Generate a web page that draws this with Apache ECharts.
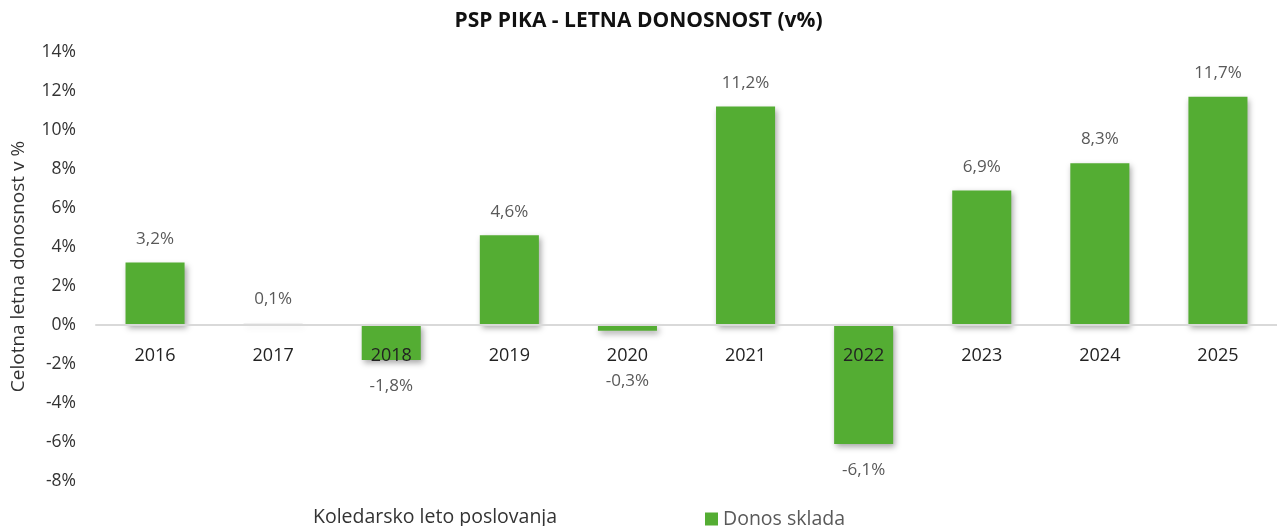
<!DOCTYPE html>
<html>
<head>
<meta charset="utf-8">
<script src="https://cdn.jsdelivr.net/npm/echarts@6/dist/echarts.min.js"></script>
<style>
  html, body { margin: 0; padding: 0; background: #fff; }
  #chart { width: 1277px; height: 526px; }
</style>
</head>
<body>
<div id="chart"></div>
<script>
// podatki
const years = ['2016', '2017', '2018', '2019', '2020', '2021', '2022', '2023', '2024', '2025'];
const returns = [3.2, 0.1, -1.8, 4.6, -0.3, 11.2, -6.1, 6.9, 8.3, 11.7];
const yTicks = { min: -8, max: 14, step: 2 };

const green = '#54ad33';
const fmt = v => String(v).replace('.', ',') + '%';

const gridTop = 52, gridHeight = 429;
// x os naj lezi na nicli: odmik od spodnjega roba mreze
const zeroOffset = -gridHeight * (0 - yTicks.min) / (yTicks.max - yTicks.min);

const chart = echarts.init(document.getElementById('chart'));

// negativni stolpci: oznaka pod stolpcem, majhne vrednosti se umaknejo pod oznako leta
const barData = returns.map(v => ({
  value: v,
  itemStyle: Math.abs(v) < 0.2 ? { color: '#f0f0f0', shadowColor: 'rgba(0,0,0,0.08)' } : undefined,
  label: {
    position: v >= 0 ? 'top' : 'bottom',
    distance: (v < 0 && v > -1) ? 42 : (v < 0 ? 18 : 15)
  }
}));

chart.setOption({
  animation: false,
  textStyle: { fontFamily: 'Open Sans' },
  title: [
    {
      text: 'PSP PIKA - LETNA DONOSNOST (v%)',
      left: 'center',
      top: 6,
      textStyle: { fontSize: 21, fontWeight: 'bold', color: '#111' }
    },
    {
      text: 'Koledarsko leto poslovanja',
      left: 308,
      top: 502,
      textStyle: { fontSize: 19.5, fontWeight: 'normal', color: '#333' }
    }
  ],
  legend: {
    data: ['Donos sklada'],
    left: 700,
    top: 504,
    itemWidth: 13,
    itemHeight: 13,
    itemGap: 6,
    icon: 'rect',
    textStyle: { fontSize: 19.5, color: '#595959' }
  },
  grid: {
    left: 96,
    top: gridTop,
    width: 1189,
    height: gridHeight
  },
  xAxis: {
    type: 'category',
    data: years,
    position: 'bottom',
    offset: zeroOffset,
    z: 5,
    axisLine: { onZero: false, lineStyle: { color: '#d9d9d9', width: 2 } },
    axisTick: { show: false },
    axisLabel: { fontSize: 18, color: '#222', margin: 22 }
  },
  yAxis: {
    type: 'value',
    min: yTicks.min,
    max: yTicks.max,
    interval: yTicks.step,
    name: 'Celotna letna donosnost v %',
    nameLocation: 'middle',
    nameGap: 68,
    nameTextStyle: { fontSize: 19, color: '#333' },
    axisLine: { show: false },
    axisTick: { show: false },
    splitLine: { show: false },
    axisLabel: {
      fontSize: 17.5,
      color: '#333',
      margin: 20,
      formatter: v => v + '%'
    }
  },
  series: [
    {
      name: 'Donos sklada',
      type: 'bar',
      data: barData,
      barWidth: '50%',
      itemStyle: {
        color: green,
        shadowColor: 'rgba(0,0,0,0.35)',
        shadowBlur: 6,
        shadowOffsetX: 2,
        shadowOffsetY: 3
      },
      label: {
        show: true,
        fontSize: 17,
        color: '#595959',
        formatter: p => fmt(p.value)
      }
    }
  ]
});
</script>
</body>
</html>
